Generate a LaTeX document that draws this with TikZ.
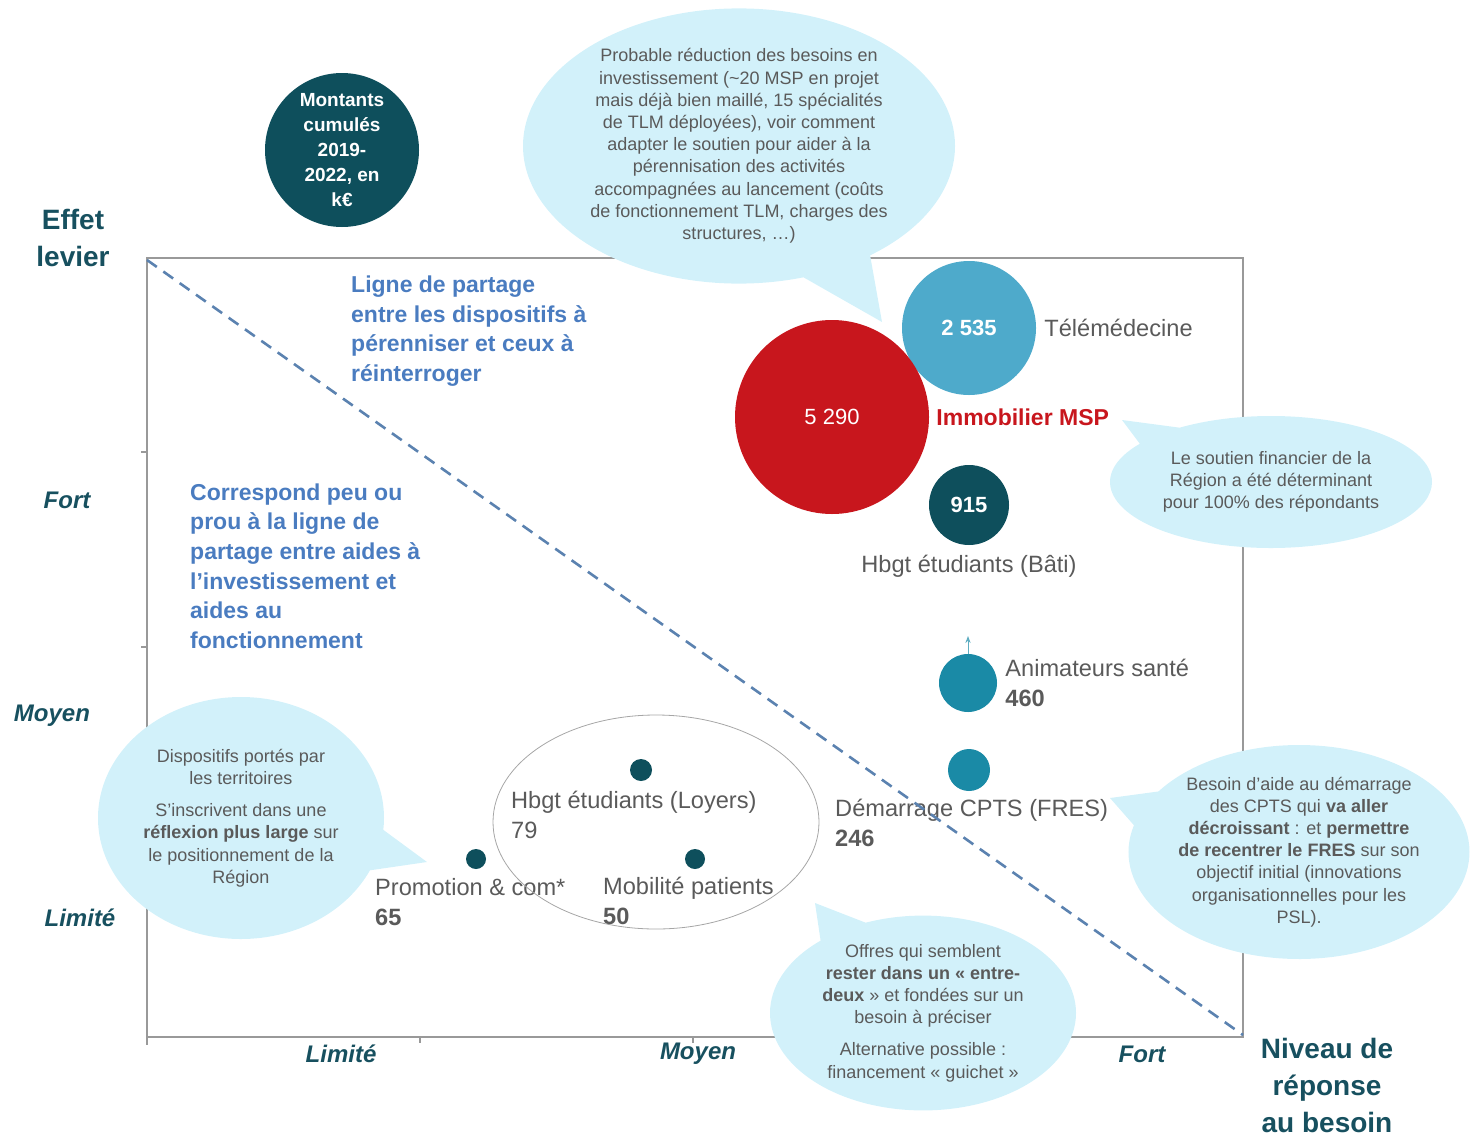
\documentclass[tikz,border=0pt]{standalone}
\usepackage{fontspec}
\setmainfont{Liberation Sans}
\usepackage{tikz}
\usetikzlibrary{positioning,shapes.geometric,shapes.callouts,arrows.meta}
\definecolor{colorBulle}{HTML}{D2F1FA}
\definecolor{colorTealDark}{HTML}{0E4F5C}
\definecolor{colorTele}{HTML}{4EAACB}
\definecolor{colorTeal}{HTML}{1A8AA6}
\definecolor{colorRed}{HTML}{C8161D}
\definecolor{colorGrayText}{HTML}{5A5A5A}
\definecolor{colorBlueText}{HTML}{4A7CC0}
\definecolor{colorAxis}{HTML}{17505F}
\definecolor{colorDash}{HTML}{5B82B0}
\tikzset{
  bulle/.style={ellipse callout, fill=colorBulle, draw=none, text=colorGrayText, align=center,
    inner sep=0pt, callout pointer arc=20, font=\fontsize{18}{22.2}\selectfont},
  disque/.style={circle, inner sep=0pt, text=white, font=\bfseries\fontsize{22}{26}\selectfont},
  etiq/.style={text=colorGrayText, inner sep=0pt, align=left, font=\fontsize{23.6}{30}\selectfont},
  axe/.style={text=colorAxis, font=\bfseries\itshape\fontsize{24}{28}\selectfont},
  titre/.style={text=colorAxis, align=center, font=\bfseries\fontsize{28}{37}\selectfont},
  commentaire/.style={text=colorBlueText, align=left, inner sep=0pt, anchor=west,
    font=\bfseries\fontsize{23}{29.6}\selectfont}
}
\begin{document}
\begin{tikzpicture}[x=1pt,y=-1pt]
  \useasboundingbox (0,0) rectangle (1482,1138);
  % cadre
  \draw[gray!80, line width=1.4] (147,258) rectangle (1243,1037);
  \foreach \t in {452,647,842} \draw[gray!80, line width=1.2] (141,\t) -- (147,\t);
  \foreach \t in {420,693,966} \draw[gray!80, line width=1.2] (\t,1037) -- (\t,1043);
  \draw[gray!80, line width=1.2] (147,1037) -- (147,1045);
  % axes
  \node[titre] (levier) at (73,238) {Effet\\levier};
  \node[titre] (besoin) at (1327,1085) {Niveau de\\réponse\\au besoin};
  \node[axe] (yfort) at (67,500) {Fort};
  \node[axe] (ymoyen) at (52,716) {Moyen};
  \node[axe] (ylimite) at (80,918) {Limité};
  \node[axe] (xlimite) at (341,1054) {Limité};
  \node[axe] (xmoyen) at (698,1054) {Moyen};
  \node[axe] (xfort) at (1142,1054) {Fort};
  % legende
  \node[disque, fill=colorTealDark, minimum size=154, align=center,
    font=\bfseries\fontsize{19}{25}\selectfont] (montants) at (342,150) {Montants\\cumulés\\2019-\\2022, en\\k€};
  % textes
  \node[commentaire] (partage) at (351,331) {Ligne de partage\\entre les dispositifs à\\pérenniser et ceux à\\réinterroger};
  \node[commentaire] (prou) at (190,566) {Correspond peu ou\\prou à la ligne de\\partage entre aides à\\l'investissement et\\aides au\\fonctionnement};
  % bulles
  \node[bulle, minimum width=432, minimum height=238, callout absolute pointer={(882,322)}] (bTLM) at (739,146)
    {Probable réduction des besoins en\\investissement (\textasciitilde20 MSP en projet\\mais déjà bien maillé, 15 spécialités\\de TLM déployées), voir comment\\adapter le soutien pour aider à la\\pérennisation des activités\\accompagnées au lancement (coûts\\de fonctionnement TLM, charges des\\structures, …)};
  \node[bulle, minimum width=322, minimum height=132, callout absolute pointer={(1122,420)}] (bMSP) at (1271,482)
    {Le soutien financier de la\\Région a été déterminant\\pour 100\% des répondants};
  \node[bulle, minimum width=338, minimum height=214, callout absolute pointer={(1110,798)}] (bCPTS) at (1299,852)
    {Besoin d'aide au démarrage\\des CPTS qui \textbf{va aller}\\\textbf{décroissant} : et \textbf{permettre}\\\textbf{de recentrer le FRES} sur son\\objectif initial (innovations\\organisationnelles pour les\\PSL).};
  \node[bulle, minimum width=286, minimum height=242, callout absolute pointer={(427,862)}] (bTerr) at (241,818)
    {Dispositifs portés par\\les territoires\\[10pt]S'inscrivent dans une\\\textbf{réflexion plus large} sur\\le positionnement de la\\Région};
  \node[bulle, minimum width=306, minimum height=190, callout absolute pointer={(815,903)}] (bOffres) at (923,1013)
    {Offres qui semblent\\\textbf{rester dans un « entre-}\\\textbf{deux} » et fondées sur un\\besoin à préciser\\[10pt]Alternative possible :\\financement « guichet »};
  % dispositifs
  \node[disque, fill=colorTele, minimum size=134] (tele) at (969,328) {2 535};
  \node[etiq, right=8pt of tele] (teleLbl) {Télémédecine};
  \node[disque, fill=colorRed, minimum size=194, font=\fontsize{22}{26}\selectfont] (msp) at (832,417) {5 290};
  \node[etiq, right=7pt of msp, text=colorRed, font=\bfseries\fontsize{23}{30}\selectfont] (mspLbl) {Immobilier MSP};
  \node[disque, fill=colorTealDark, minimum size=80] (bati) at (969,505) {915};
  \node[etiq, below=10pt of bati] (batiLbl) {Hbgt étudiants (Bâti)};
  \draw[colorTeal!70, line width=1, -{Stealth[length=7pt]}] (968,712) -- (968,636);
  \node[disque, fill=colorTeal, minimum size=58] (anim) at (968,683) {};
  \node[etiq, right=8pt of anim] (animLbl) {Animateurs santé\\\textbf{460}};
  \node[disque, fill=colorTeal, minimum size=42] (cpts) at (969,770) {};
  \node[etiq, anchor=west] (cptsLbl) at (835,823) {Démarrage CPTS (FRES)\\\textbf{246}};
  \node[disque, fill=colorTealDark, minimum size=22] (loyers) at (641,770) {};
  \node[etiq, anchor=west] (loyersLbl) at (511,815) {Hbgt étudiants (Loyers)\\79};
  \node[disque, fill=colorTealDark, minimum size=20] (promo) at (476,859) {};
  \node[etiq, anchor=west] (promoLbl) at (375,902) {Promotion \& com*\\\textbf{65}};
  \node[disque, fill=colorTealDark, minimum size=20] (mobil) at (695,859) {};
  \node[etiq, anchor=west] (mobilLbl) at (603,901) {Mobilité patients\\\textbf{50}};
  \node[ellipse, draw=gray!70, line width=0.8, minimum width=326, minimum height=214] (groupe) at (656,822) {};
  % ligne de partage
  \coordinate (dHaut) at (147,260);
  \coordinate (dBas) at (1243,1035);
  \draw[colorDash, line width=2.6, dash pattern=on 12pt off 8pt] (dHaut) -- (dBas);
\end{tikzpicture}
\end{document}
